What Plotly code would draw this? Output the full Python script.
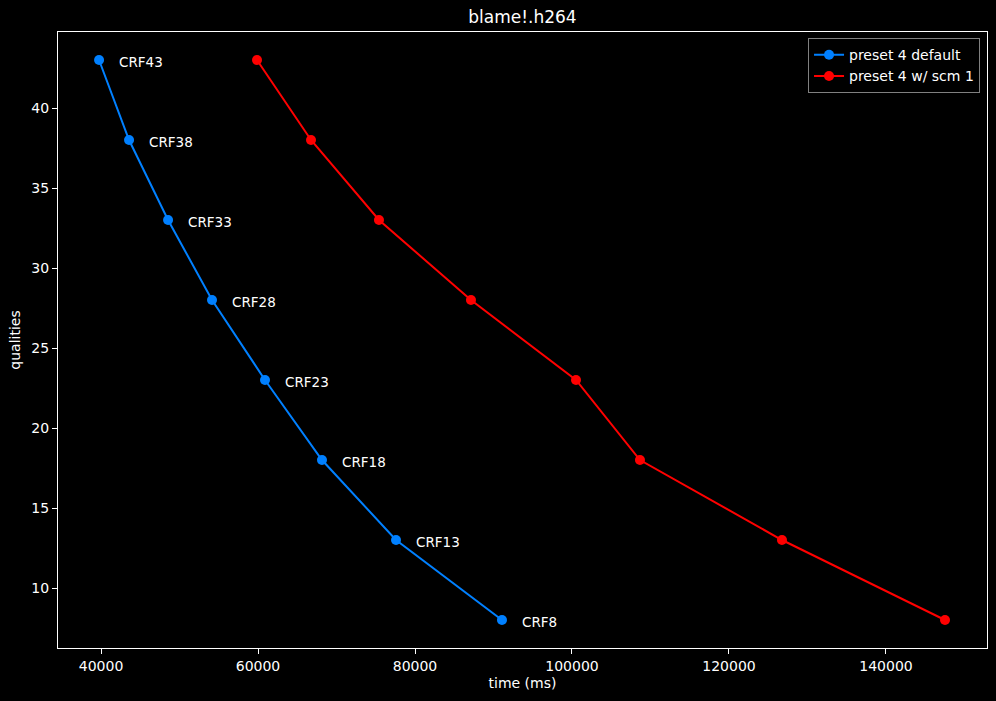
import plotly.graph_objects as go

# quality levels (CRF) and encode times
qualities = [43, 38, 33, 28, 23, 18, 13, 8]
crf_labels = ["CRF43", "CRF38", "CRF33", "CRF28", "CRF23", "CRF18", "CRF13", "CRF8"]
time_default = [39750, 43570, 48540, 54140, 60890, 68150, 77580, 91080]
time_scm = [59870, 66750, 75410, 87130, 100510, 108660, 126750, 147520]

FONT = "DejaVu Sans"
WHITE = "#ffffff"

fig = go.Figure()

fig.add_trace(go.Scatter(
    x=time_default, y=qualities,
    mode="lines+markers",
    name="preset 4 default",
    line={"color": "#0080ff", "width": 2},
    marker={"size": 10, "color": "#0080ff"},
))
fig.add_trace(go.Scatter(
    x=time_scm, y=qualities,
    mode="lines+markers",
    name="preset 4 w/ scm 1",
    line={"color": "#ff0000", "width": 2},
    marker={"size": 10, "color": "#ff0000"},
))

# CRF labels next to the default-preset points
for t, q, lab in zip(time_default, qualities, crf_labels):
    fig.add_annotation(
        x=t, y=q, text=lab, showarrow=False,
        xanchor="left", yanchor="middle",
        xshift=18, yshift=-2,
        font={"family": FONT, "size": 13.5, "color": WHITE},
    )

axis_common = dict(
    showgrid=False, zeroline=False,
    showline=True, linecolor=WHITE, linewidth=1, mirror=True,
    ticks="outside", ticklen=5, tickcolor=WHITE,
    tickfont={"family": FONT, "size": 14, "color": WHITE},
)

fig.update_xaxes(
    range=[34520, 152870], tickvals=[40000, 60000, 80000, 100000, 120000, 140000],
    tickformat="d",
    title={"text": "time (ms)", "font": {"family": FONT, "size": 14, "color": WHITE}, "standoff": 5},
    **axis_common,
)
fig.update_yaxes(
    range=[6.25, 44.75], tickvals=[10, 15, 20, 25, 30, 35, 40],
    title={"text": "qualities", "font": {"family": FONT, "size": 14, "color": WHITE}, "standoff": 7},
    **axis_common,
)

fig.update_layout(
    width=996, height=701,
    paper_bgcolor="#000000", plot_bgcolor="#000000",
    margin={"l": 58, "r": 9, "t": 32, "b": 53},
    title={"text": "blame!.h264", "x": 0.5, "xref": "paper", "xanchor": "center",
           "y": 0.975, "yanchor": "middle",
           "font": {"family": FONT, "size": 17, "color": WHITE}},
    font={"family": FONT, "color": WHITE},
    legend={"x": 0.9925, "y": 0.99, "xanchor": "right", "yanchor": "top",
            "bgcolor": "#000000", "bordercolor": "#808080", "borderwidth": 1,
            "font": {"family": FONT, "size": 14, "color": WHITE}},
    showlegend=True,
)

# drop the page margin so the figure fills the window
fig.write_html(
    "out.html",
    config={"displayModeBar": False},
    post_script="document.body.style.margin='0';document.body.style.background='#000';",
)
